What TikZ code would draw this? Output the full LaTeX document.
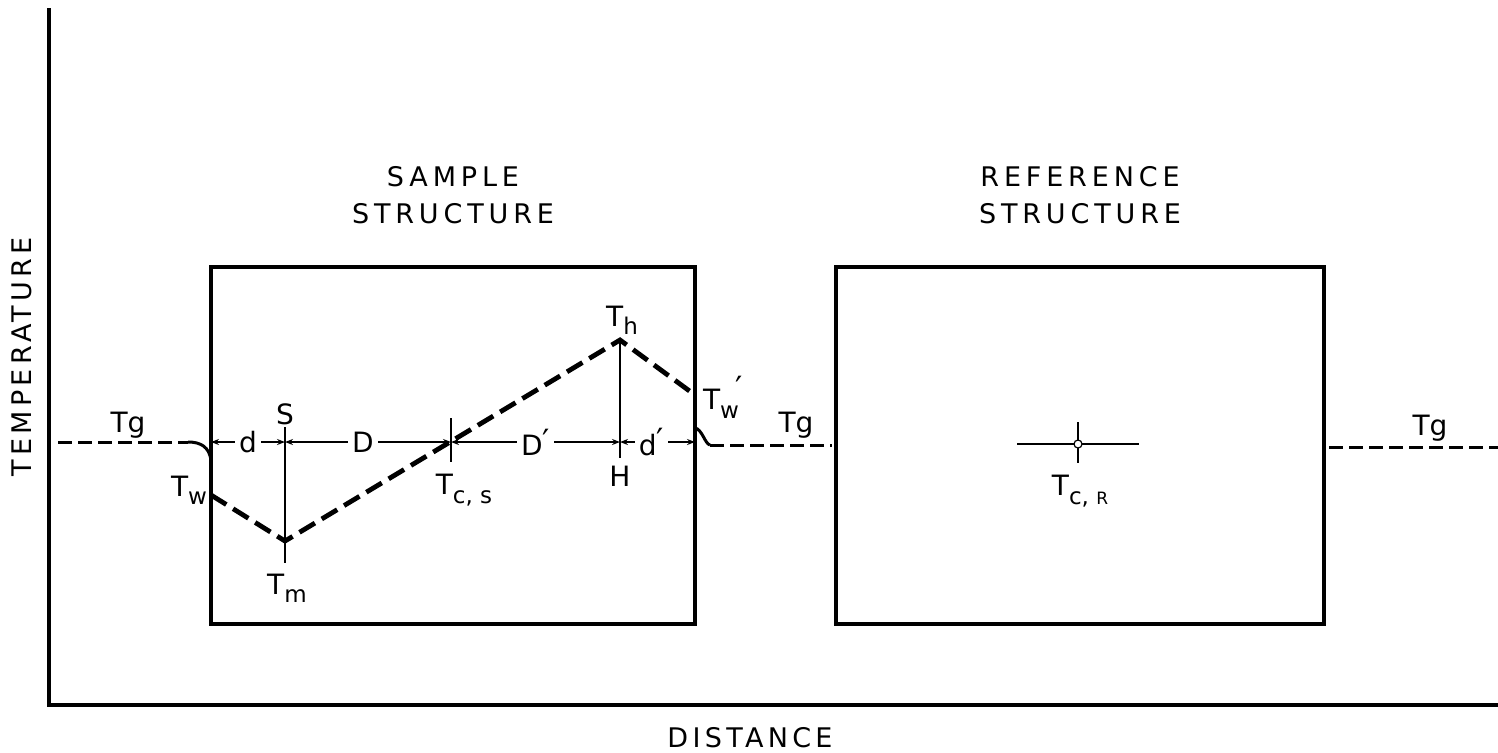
\documentclass[tikz,border=0pt]{standalone}
\usepackage{fontspec}
\setmainfont{DejaVu Sans}
\usetikzlibrary{arrows.meta}
\tikzset{
  axisline/.style={line width=2.4pt},
  structbox/.style={draw, line width=1.8pt, inner sep=0pt},
  title/.style={font=\fontsize{13.5}{18.5}\selectfont\addfontfeature{LetterSpace=18}, align=center},
  axlabel/.style={font=\fontsize{13.5}{13.5}\selectfont\addfontfeature{LetterSpace=16}},
  lbl/.style={font=\fontsize{14}{14}\selectfont, inner sep=1pt},
  profile/.style={line width=2.4pt, dash pattern=on 9pt off 4pt},
  gasline/.style={line width=1.5pt, dash pattern=on 7pt off 3pt},
  guide/.style={line width=0.75pt},
  dim/.style={line width=0.75pt, {Stealth[length=4pt,width=3pt]}-{Stealth[length=4pt,width=3pt]}},
  dimlbl/.style={lbl, fill=white, inner sep=2pt}
}
\newcommand{\subtxt}[1]{\raisebox{-0.55ex}{\fontsize{11.5}{11.5}\selectfont #1}}
\newcommand{\Tsub}[1]{T\subtxt{#1}}
\newcommand{\prm}{\raisebox{0.2ex}{\fontsize{16}{16}\selectfont ′}}

\begin{document}
\begin{tikzpicture}[x=0.5pt,y=-0.5pt]
  \useasboundingbox (0,0) rectangle (1498,752);

  % axes
  \coordinate (top) at (49,8);
  \coordinate (orig) at (49,705);
  \coordinate (right) at (1498,705);
  \draw[axisline] (top) -- (orig) -- (right);
  \node[axlabel, rotate=90] (ylab) at (22,357) {TEMPERATURE};
  \node[axlabel] (xlab) at (750,738) {DISTANCE};

  % structures
  \node[structbox, minimum width=242pt, minimum height=178.5pt] (sample) at (453,445.5) {};
  \node[structbox, minimum width=244pt, minimum height=178.5pt] (ref) at (1080,445.5) {};
  \node[title] (sampletitle) at (453,195) {SAMPLE\\STRUCTURE};
  \node[title] (reftitle) at (1080,195) {REFERENCE\\STRUCTURE};

  % gas temperature
  \coordinate (gL0) at (58,442);
  \coordinate (gL1) at (188,442);
  \coordinate (gLw) at (211,460);
  \draw[gasline] (gL0) -- (gL1);
  \draw[line width=1.5pt] (gL1) .. controls (201,442) and (209,447) .. (gLw);
  \coordinate (gRw) at (695,428);
  \coordinate (gR1) at (710,445);
  \coordinate (gR2) at (832,445);
  \draw[line width=1.5pt] (gRw) .. controls (702,429) and (705,444) .. (gR1);
  \draw[gasline] (gR1) -- (gR2);
  \coordinate (gF0) at (1329,447);
  \coordinate (gF1) at (1498,447);
  \draw[gasline] (gF0) -- (gF1);
  \node[lbl] (tg1) at (128,425) {Tg};
  \node[lbl] (tg2) at (796,425) {Tg};
  \node[lbl] (tg3) at (1430,428) {Tg};

  % profile in sample
  \coordinate (tw) at (211,495);
  \coordinate (tm) at (285,541);
  \coordinate (th) at (620,340);
  \coordinate (twp) at (695,395);
  \draw[profile] (tw) -- (tm) -- (th) -- (twp);
  \node[lbl] (twlab) at (189,490) {\Tsub{w}};
  \node[lbl] (tmlab) at (287,588) {\Tsub{m}};
  \node[lbl] (thlab) at (622,320) {\Tsub{h}};
  \node[lbl] (twplab) at (723,397) {\Tsub{w}\hspace{-0.12em}\raisebox{0.7ex}{\fontsize{16}{16}\selectfont ′}};

  % guide lines
  \draw[guide] (285,427) -- (tm) -- (285,563);
  \draw[guide] (451,418) -- (451,462);
  \draw[guide] (th) -- (620,458);
  \node[lbl] (slab) at (285,414) {S};
  \node[lbl] (hlab) at (620,476) {H};
  \node[lbl] (tcslab) at (464,490) {\Tsub{c, s}};

  % dimensions
  \coordinate (dA) at (211,442);
  \coordinate (dS) at (285,442);
  \coordinate (dC) at (451,442);
  \coordinate (dH) at (620,442);
  \coordinate (dB) at (695,442);
  \draw[dim] (dA) -- node[dimlbl, pos=0.5]{d} (dS);
  \draw[dim] (dS) -- node[dimlbl, pos=0.47]{D} (dC);
  \draw[dim] (dC) -- node[dimlbl, pos=0.5]{D\prm} (dH);
  \draw[dim] (dH) -- node[dimlbl, pos=0.42]{d\prm} (dB);

  % reference centre
  \coordinate (tcr) at (1078,444);
  \draw[guide] (1017,444) -- (1139,444);
  \draw[guide] (1078,422) -- (1078,463);
  \draw[fill=white, line width=0.6pt] (tcr) circle (2pt);
  \node[lbl] (tcrlab) at (1080,491) {\Tsub{c, {\fontsize{8.5}{8.5}\selectfont R}}};
\end{tikzpicture}
\end{document}
